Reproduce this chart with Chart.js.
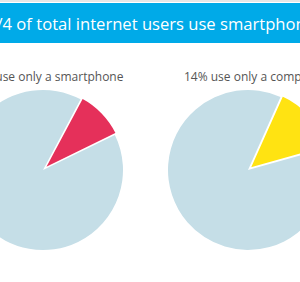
<!DOCTYPE html>
<html>
<head>
<meta charset="utf-8">
<script src="https://cdn.jsdelivr.net/npm/chart.js@4"></script>
<style>
    body { margin: 0; width: 300px; height: 282px; overflow: hidden; position: relative; background: #fff; font-family: "Open Sans", sans-serif; }
    .topline { position: absolute; left: 0; top: 0; width: 300px; height: 2px; background: #e6e6e6; }
    .header { position: absolute; left: 0; top: 3px; width: 300px; height: 40px; background: #00aae8; overflow: hidden; }
    .header span { position: absolute; left: -13px; top: 10px; white-space: nowrap; color: #fff; font-size: 16.6px; line-height: 22px; }
    .title { position: absolute; top: 69px; white-space: nowrap; color: #555; font-size: 12px; line-height: 16px; }
    #title1 { left: -54px; width: 200px; text-align: center; }
    #title2 { left: 184px; }
    .pie { position: absolute; top: 70px; width: 200px; height: 212px; }
    #pie1 { left: -57px; }
    #pie2 { left: 148px; }
</style>
</head>
<body>
<div class="topline"></div>
<div class="header"><span>1/4 of total internet users use smartphone and computer</span></div>
<div class="title" id="title1">10% use only a smartphone</div>
<div class="title" id="title2">14% use only a computer</div>
<div class="pie" id="pie1"><canvas id="chart1"></canvas></div>
<div class="pie" id="pie2"><canvas id="chart2"></canvas></div>
<script>
// share of internet users
const labels1 = ['Only smartphone', 'Others'];
const values1 = [10, 90];
const labels2 = ['Only computer', 'Others'];
const values2 = [14, 86];

const lightBlue = '#c5dee7';

function makePie(id, labels, values, color, rotation, offset) {
    const ctx = document.getElementById(id).getContext('2d');
    return new Chart(ctx, {
        type: 'pie',
        data: {
            labels: labels,
            datasets: [{
                data: values,
                backgroundColor: [color, lightBlue],
                borderColor: '#ffffff',
                borderWidth: [2, 0],
                offset: [offset, 0],
                clip: false
            }]
        },
        options: {
            responsive: true,
            maintainAspectRatio: false,
            animation: false,
            rotation: rotation,
            radius: 80,
            layout: { padding: { top: 20, bottom: 32, left: 0, right: 0 } },
            plugins: {
                legend: { display: false },
                tooltip: { enabled: false }
            }
        }
    });
}

makePie('chart1', labels1, values1, '#e5305a', 28, 7);
makePie('chart2', labels2, values2, '#ffe312', 24, 8);
</script>
</body>
</html>
